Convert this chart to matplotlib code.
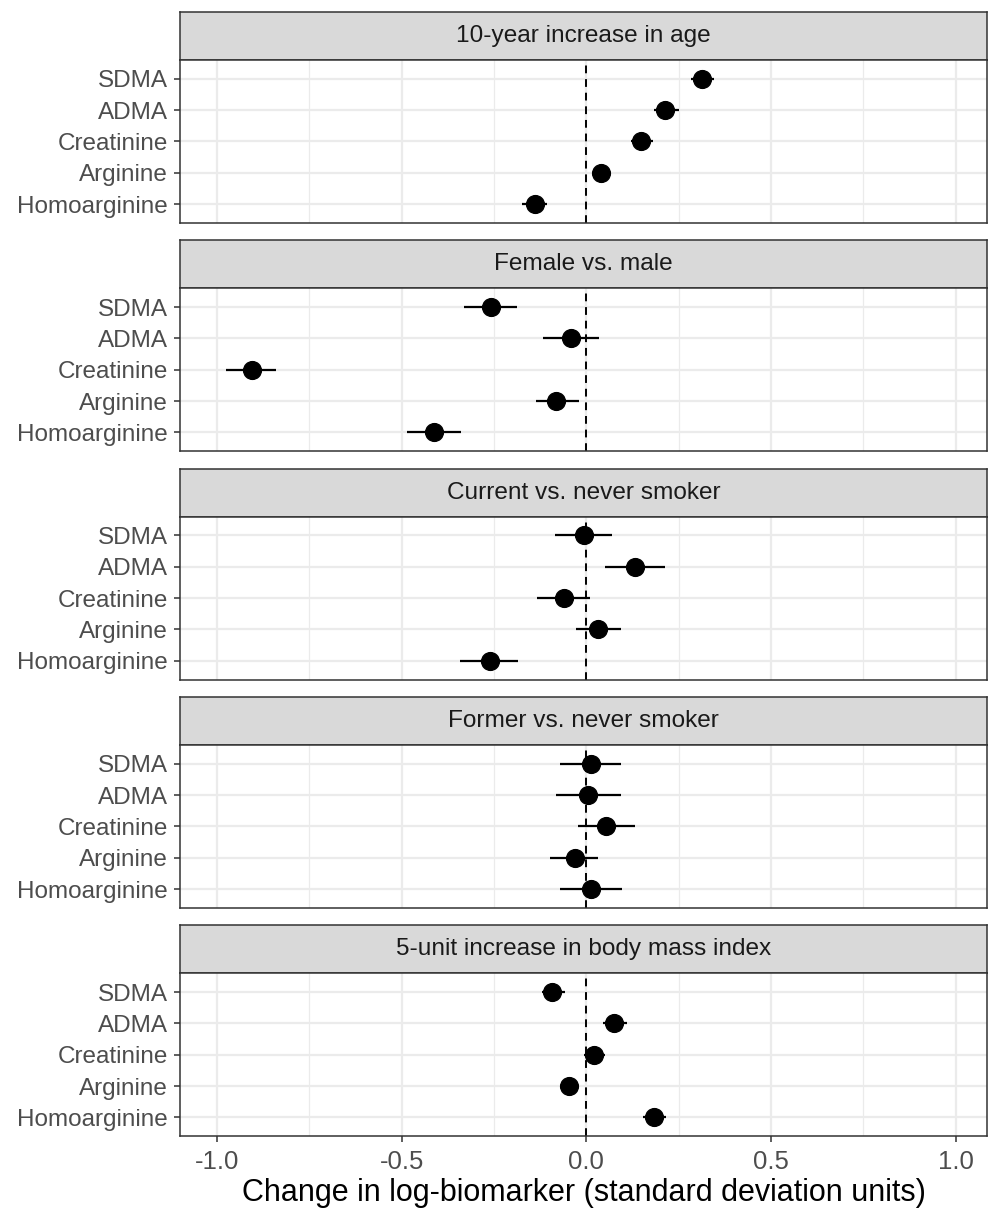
import numpy as np
import matplotlib
matplotlib.use("Agg")
import matplotlib.pyplot as plt

# Biomarkers, listed top to bottom within each facet
biomarkers = ["SDMA", "ADMA", "Creatinine", "Arginine", "Homoarginine"]

facets = [
    "10-year increase in age",
    "Female vs. male",
    "Current vs. never smoker",
    "Former vs. never smoker",
    "5-unit increase in body mass index",
]

# Point estimates (SD units of log-biomarker), one row per facet
est = np.array([
    [0.313, 0.214, 0.149, 0.041, -0.140],
    [-0.259, -0.041, -0.906, -0.081, -0.411],
    [-0.006, 0.131, -0.061, 0.032, -0.261],
    [0.012, 0.005, 0.054, -0.030, 0.012],
    [-0.092, 0.076, 0.022, -0.047, 0.183],
])

# 95% confidence limits
lo = np.array([
    [0.283, 0.184, 0.120, 0.018, -0.173],
    [-0.331, -0.116, -0.975, -0.136, -0.486],
    [-0.086, 0.050, -0.133, -0.027, -0.341],
    [-0.072, -0.081, -0.023, -0.098, -0.072],
    [-0.120, 0.046, -0.006, -0.070, 0.153],
])
hi = np.array([
    [0.346, 0.251, 0.180, 0.065, -0.106],
    [-0.187, 0.035, -0.839, -0.020, -0.340],
    [0.071, 0.212, 0.009, 0.095, -0.185],
    [0.094, 0.094, 0.131, 0.032, 0.097],
    [-0.058, 0.109, 0.051, -0.023, 0.215],
])

xticks = [-1.0, -0.5, 0.0, 0.5, 1.0]
xminor = [-0.75, -0.25, 0.25, 0.75]

plt.rcParams["font.family"] = ["Liberation Sans", "DejaVu Sans"]

W, H = 988, 1211
fig = plt.figure(figsize=(W / 100, H / 100), dpi=100)

left, right = 180, 987
strip_h, panel_h, step = 48, 163, 228.3
top0 = 12

grid_col = "#EBEBEB"
border_col = "#333333"

ypos = np.arange(1, len(biomarkers) + 1)

for k, title in enumerate(facets):
    s_top = top0 + step * k
    s_bot = s_top + strip_h
    p_bot = s_bot + panel_h

    # strip
    sax = fig.add_axes([left / W, 1 - s_bot / H, (right - left) / W, strip_h / H])
    sax.set_facecolor("#D9D9D9")
    sax.set_xticks([])
    sax.set_yticks([])
    for sp in sax.spines.values():
        sp.set_color(border_col)
        sp.set_linewidth(1.1)
    sax.text(0.5, 0.5, title, ha="center", va="center", fontsize=17.6,
             color="#1A1A1A", transform=sax.transAxes)

    # panel
    ax = fig.add_axes([left / W, 1 - p_bot / H, (right - left) / W, panel_h / H])
    ax.set_xlim(-1.10, 1.085)
    ax.set_ylim(5.6, 0.4)
    ax.set_xticks(xticks)
    ax.set_xticks(xminor, minor=True)
    ax.set_yticks(ypos)
    ax.set_yticklabels(biomarkers)
    ax.grid(True, which="major", color=grid_col, lw=1.6, zorder=0)
    ax.grid(True, which="minor", axis="x", color=grid_col, lw=0.9, zorder=0)
    ax.set_axisbelow(True)
    ax.tick_params(axis="y", which="major", length=4.5, width=1.1, color=border_col,
                   labelsize=17.5, labelcolor="#4D4D4D", pad=4)
    ax.tick_params(axis="x", which="minor", length=0)
    if k < len(facets) - 1:
        ax.tick_params(axis="x", which="major", length=0, labelbottom=False)
    else:
        ax.tick_params(axis="x", which="major", length=4, width=1.1, color=border_col,
                       labelsize=18.5, labelcolor="#4D4D4D", pad=6)
        ax.set_xticklabels([f"{t:.1f}" for t in xticks])
        ax.set_xlabel("Change in log-biomarker (standard deviation units)",
                      fontsize=22, color="black", labelpad=3)
    for sp in ax.spines.values():
        sp.set_color(border_col)
        sp.set_linewidth(1.1)

    ax.axvline(0, color="black", lw=1.4, linestyle=(0, (4, 3)), zorder=2)
    ax.hlines(ypos, lo[k], hi[k], color="black", lw=1.6, zorder=3)
    ax.plot(est[k], ypos, "o", color="black", markersize=12.8, zorder=4)

fig.savefig("out.png", dpi=100)
